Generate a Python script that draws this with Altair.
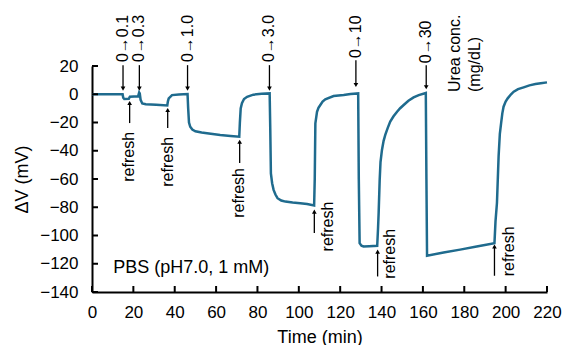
import altair as alt
import pandas as pd

# ---- main trace (Time in min, ΔV in mV) ----
time_min = [0, 14.8, 15.1, 15.6, 17.8, 18.3, 22.3, 22.8, 23.1, 23.5, 24.3, 26, 31, 36.4,
            36.7, 37.1, 38.7, 42, 46.2, 46.5, 46.9, 47.5, 48.5, 50, 53, 55.6, 62, 67, 71.2,
            71.5, 71.9, 72.5, 73.5, 75, 78, 82, 85.9, 86.2, 86.5, 87.1, 87.8, 88.7, 89.7,
            91.5, 93.5, 97, 100.7, 104, 107.4, 107.7, 108.0, 108.8, 109.5, 110.4, 111.5,
            112.8, 116.8, 121.7, 125, 128.7, 129.0, 129.4, 130.3, 131.3, 134, 137.9, 138.3,
            138.6, 139.1, 139.5, 140.2, 141.0, 141.8, 143.0, 144.2, 145.8, 147.5, 149,
            150.7, 153, 155.5, 158, 161.4, 161.7, 162.0, 170, 178, 186, 194.6, 195.1, 195.8,
            196.6, 197.2, 197.8, 198.4, 199, 200, 201, 202.5, 203.9, 206, 208.7, 211.5,
            214.4, 217, 220]
dv_mv = [0, 0, -2.5, -3.3, -3.2, -1.8, -1.5, 1.2, 0.5, -4, -6.5, -7.1, -7.5, -7.9,
         -5, -2.9, -0.6, -0.1, 0.2, -10, -20, -23, -25, -26.2, -27.1, -27.6, -28.8, -29.5, -30,
         -20, -10, -6.4, -3.4, -1.8, -0.3, 0.3, 0.6, -25, -56, -63, -67.7, -71, -73.6,
         -75.2, -76, -76.7, -77.1, -77.7, -78.8, -60, -20.6, -12.4, -9.6, -7.6, -5.2,
         -3.6, -1.3, -0.6, 0.2, 0.6, -60, -105.4, -107.2, -107.8, -107.6, -107.3, -95,
         -84, -60.6, -48, -39.4, -33, -28.8, -23.8, -19.4, -15.6, -12.4, -9.9,
         -7.6, -4.6, -2.2, -0.6, 0.9, -60, -114.3, -112, -110, -107.8, -105.4, -90, -77,
         -44, -28, -20.6, -13.5, -8.8, -5.2, -2.9, -0.2, 1.8, 3.6, 4.9, 6.3,
         7.2, 7.8, 8.4]

x_ticks = [0, 20, 40, 60, 80, 100, 120, 140, 160, 180, 200, 220]
y_ticks = [-140, -120, -100, -80, -60, -40, -20, 0, 20]

# ---- concentration step annotations (top) ----
conc_labels = ["0→0.1", "0→0.3", "0→1.0", "0→3.0", "0→10", "0→30"]
conc_time = [15.0, 22.9, 46.2, 85.8, 127.6, 161.6]
conc_arrow_top = [20.6, 20.6, 20.6, 20.6, 24.0, 20.6]
conc_arrow_tip = [4.0, 4.0, 4.0, 4.0, 6.5, 5.0]
conc_text_y = [22.8, 22.8, 22.8, 22.8, 25.6, 22.0]

# ---- refresh annotations (bottom) ----
refresh_time = [18.2, 36.6, 71.4, 107.5, 138.1, 194.6]
refresh_tip = [-6.2, -11.2, -33.6, -83.1, -111.4, -107.8]
refresh_tail = [-20.4, -23.9, -48.6, -98.2, -129.0, -128.5]
refresh_text_t = [18.0, 36.9, 71.2, 114.3, 144.2, 201.4]
refresh_text_y = [-26.7, -30.2, -52.2, -76.0, -95.3, -93.6]

FONT = "Liberation Sans"
LINE_COLOR = "#1f6b8e"

curve = pd.DataFrame({"t": time_min, "v": dv_mv})
conc = pd.DataFrame({"t": conc_time, "top": conc_arrow_top, "tip": conc_arrow_tip,
                     "ty": conc_text_y, "label": conc_labels})
refresh = pd.DataFrame({"t": refresh_time, "tip": refresh_tip, "tail": refresh_tail,
                        "tt": refresh_text_t, "ty": refresh_text_y,
                        "label": ["refresh"] * len(refresh_time)})

xscale = alt.Scale(domain=[0, 220], nice=False, zero=False)
yscale = alt.Scale(domain=[-140, 20], nice=False, zero=False)
xaxis = alt.Axis(values=x_ticks, title="Time (min)", ticks=False, tickSize=0,
                 labelPadding=12, titlePadding=8, grid=False, labelFlush=False)
yaxis = alt.Axis(values=y_ticks, title="ΔV  (mV)", ticks=False, tickSize=0,
                 labelPadding=14, titlePadding=8, grid=False, labelFlush=False)


def X(field):
    return alt.X(field, type="quantitative", scale=xscale, axis=xaxis)


def Y(field):
    return alt.Y(field, type="quantitative", scale=yscale, axis=yaxis)


line = alt.Chart(curve).mark_line(color=LINE_COLOR, strokeWidth=2.5).encode(
    x=X("t"), y=Y("v"))

xt = alt.Chart(pd.DataFrame({"t": x_ticks})).mark_rule(color="black", strokeWidth=2).encode(
    x=X("t"), y=alt.value(226), y2=alt.value(220))
yt = alt.Chart(pd.DataFrame({"v": y_ticks})).mark_rule(color="black", strokeWidth=2).encode(
    y=Y("v"), x=alt.value(0), x2=alt.value(6))

conc_rule = alt.Chart(conc).mark_rule(color="black", strokeWidth=1.3).encode(
    x=X("t"), y=Y("top"), y2="tip:Q")
conc_head = alt.Chart(conc).mark_point(shape="triangle-down", filled=True, color="black",
                                        size=22, opacity=1).encode(x=X("t"), y=Y("tip"))
conc_text = alt.Chart(conc).mark_text(angle=270, align="left", baseline="middle",
                                       font=FONT, fontSize=16, color="black").encode(
    x=X("t"), y=Y("ty"), text="label:N")

ref_rule = alt.Chart(refresh).mark_rule(color="black", strokeWidth=1.3).encode(
    x=X("t"), y=Y("tail"), y2="tip:Q")
ref_head = alt.Chart(refresh).mark_point(shape="triangle-up", filled=True, color="black",
                                          size=22, opacity=1).encode(x=X("t"), y=Y("tip"))
ref_text = alt.Chart(refresh).mark_text(angle=270, align="right", baseline="middle",
                                         font=FONT, fontSize=16, color="black").encode(
    x=X("tt"), y=Y("ty"), text="label:N")

notes = pd.DataFrame({"t": [175.7, 185.4], "v": [1.6, 1.6],
                      "label": ["Urea conc.", "(mg/dL)"]})
notes_text = alt.Chart(notes).mark_text(angle=270, align="left", baseline="middle",
                                         font=FONT, fontSize=16, color="black").encode(
    x=X("t"), y=Y("v"), text="label:N")

pbs = pd.DataFrame({"t": [10.3], "v": [-126.4], "label": ["PBS (pH7.0, 1 mM)"]})
pbs_text = alt.Chart(pbs).mark_text(align="left", baseline="alphabetic", font=FONT,
                                     fontSize=18, color="black").encode(
    x=X("t"), y=Y("v"), text="label:N")

chart = alt.layer(line, xt, yt, conc_rule, conc_head, conc_text, ref_rule, ref_head,
                  ref_text, notes_text, pbs_text).properties(
    width=455, height=226,
    autosize=alt.AutoSizeParams(type="none"),
    padding={"left": 92, "top": 66, "right": 17, "bottom": 53},
    background="white",
).configure_view(stroke=None).configure_axis(
    domainColor="black", domainWidth=2, labelColor="black", titleColor="black",
    labelFont=FONT, titleFont=FONT, labelFontSize=17, titleFontSize=18,
    titleFontWeight="normal",
)

chart.save("out.html", embed_options={"renderer": "svg", "actions": False})
